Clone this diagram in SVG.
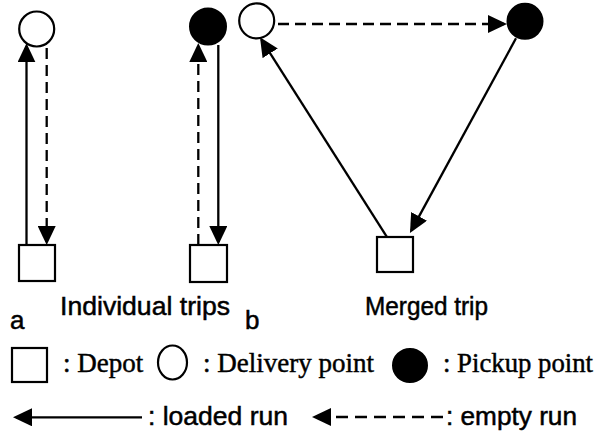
<svg xmlns="http://www.w3.org/2000/svg" width="599" height="434" viewBox="0 0 599 434">
  <style>
    .depot { fill: #fff; stroke: #000; stroke-width: 2.2; }
    .delivery { fill: #fff; stroke: #000; stroke-width: 2.2; }
    .pickup { fill: #000; stroke: #000; stroke-width: 2; }
    .loaded { fill: none; stroke: #000; stroke-width: 2.3; marker-end: url(#head); }
    .empty { fill: none; stroke: #000; stroke-width: 2.3; stroke-dasharray: 11 6; marker-end: url(#head); }
    .sans { font-family: "Liberation Sans", Arial, sans-serif; font-size: 26px; fill: #000; stroke: #000; stroke-width: 0.5; }
    .serif { font-family: "Liberation Serif", "Times New Roman", serif; font-size: 27px; fill: #000; stroke: #000; stroke-width: 0.45; }
  </style>
  <defs>
    <marker id="head" viewBox="0 0 19 18" refX="16" refY="9" markerWidth="19" markerHeight="18" markerUnits="userSpaceOnUse" orient="auto">
      <path d="M0,0 L19,9 L0,18 Z" fill="#000" stroke="none"/>
    </marker>
  </defs>

  <rect width="599" height="434" fill="#fff"/>

  <!-- (a) individual trips -->
  <g id="a-delivery"><circle class="delivery" cx="36.7" cy="29" r="17.5"/></g>
  <g id="a-depot1"><rect class="depot" x="19" y="245" width="36" height="36"/></g>
  <g id="a-pickup"><circle class="pickup" cx="208" cy="26.5" r="18"/></g>
  <g id="a-depot2"><rect class="depot" x="190" y="245" width="37" height="37"/></g>

  <!-- (b) merged trip -->
  <g id="b-delivery"><circle class="delivery" cx="256.7" cy="20.8" r="17.5"/></g>
  <g id="b-pickup"><circle class="pickup" cx="525" cy="21.3" r="17.5"/></g>
  <g id="b-depot"><rect class="depot" x="377" y="237" width="36" height="35"/></g>

  <!-- runs between points -->
  <g id="connectors">
    <line class="loaded" x1="26.5" y1="245" x2="26.5" y2="46.3"/>
    <line class="empty" x1="46.7" y1="48" x2="46.7" y2="242"/>
    <line class="empty" x1="198.3" y1="245" x2="198.3" y2="46"/>
    <line class="loaded" x1="218.3" y1="45" x2="218.3" y2="242"/>
    <line class="empty" x1="278" y1="24" x2="504" y2="24"/>
    <line class="loaded" x1="386.7" y1="236.7" x2="261.6" y2="39.8"/>
    <line class="loaded" x1="516" y1="38.3" x2="411.4" y2="230.4"/>
  </g>

  <!-- captions -->
  <g id="captions">
    <text class="sans" x="60" y="315" textLength="170" lengthAdjust="spacingAndGlyphs">Individual trips</text>
    <text class="sans" x="365" y="315" textLength="123" lengthAdjust="spacingAndGlyphs">Merged trip</text>
    <text class="sans" x="10" y="329">a</text>
    <text class="sans" x="245" y="329">b</text>
  </g>

  <!-- legend -->
  <g id="legend-depot">
    <rect class="depot" x="12" y="348" width="35" height="34"/>
    <text class="serif" x="63" y="372">: Depot</text>
  </g>
  <g id="legend-delivery">
    <ellipse class="delivery" cx="172.5" cy="362.5" rx="14.5" ry="17"/>
    <text class="serif" x="203" y="372" textLength="171" lengthAdjust="spacingAndGlyphs">: Delivery point</text>
  </g>
  <g id="legend-pickup">
    <ellipse class="pickup" cx="410" cy="365.5" rx="17" ry="16.5"/>
    <text class="serif" x="443" y="372" textLength="150" lengthAdjust="spacingAndGlyphs">: Pickup point</text>
  </g>
  <g id="legend-loaded">
    <line class="loaded" x1="142" y1="417.3" x2="16" y2="417.3"/>
    <text class="sans" x="148" y="425" textLength="140" lengthAdjust="spacingAndGlyphs">: loaded run</text>
  </g>
  <g id="legend-empty">
    <line class="empty" x1="443" y1="417" x2="315" y2="417" style="stroke-dasharray: 12 7"/>
    <text class="sans" x="446" y="425" textLength="131" lengthAdjust="spacingAndGlyphs">: empty run</text>
  </g>
</svg>
